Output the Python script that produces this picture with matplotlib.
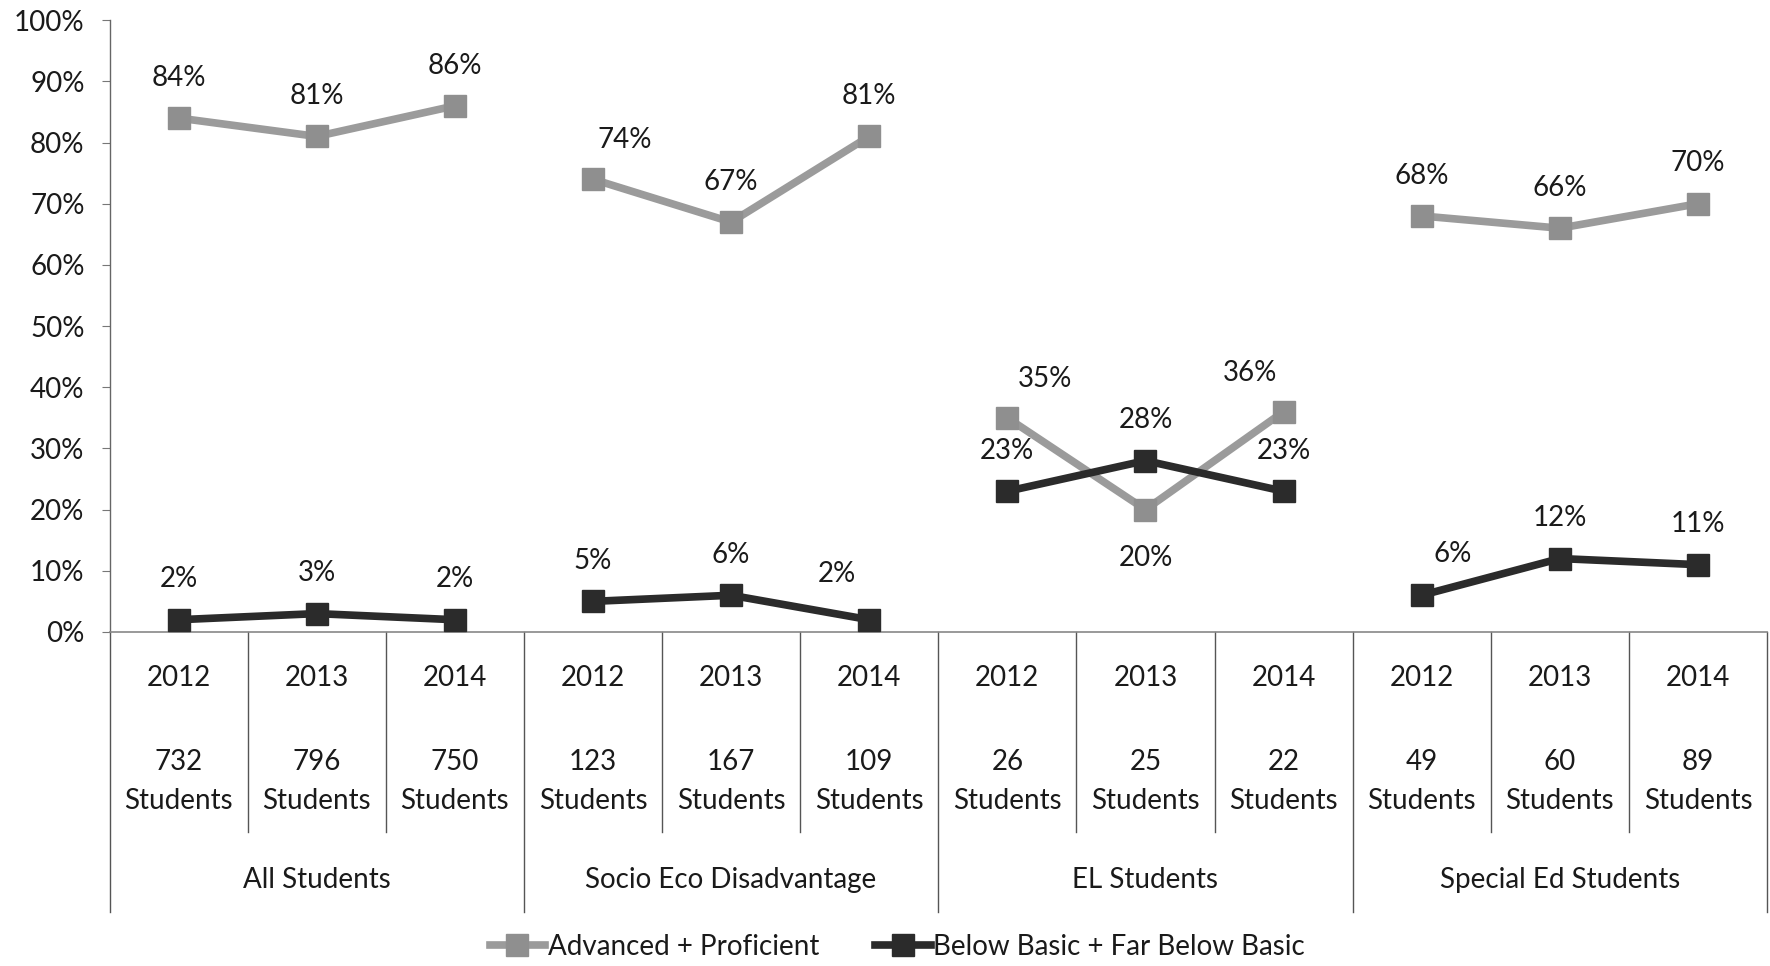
import matplotlib
matplotlib.use('Agg')
import matplotlib.pyplot as plt
from matplotlib.ticker import PercentFormatter, MultipleLocator
from matplotlib.transforms import blended_transform_factory

plt.rcParams['font.family'] = ['Lato', 'DejaVu Sans']

# Groups, years and number of students per year
groups = ["All Students", "Socio Eco Disadvantage", "EL Students", "Special Ed Students"]
years = ["2012", "2013", "2014"]
student_counts = [732, 796, 750, 123, 167, 109, 26, 25, 22, 49, 60, 89]

# Percentages per group/year (12 points, 3 per group)
adv_prof = [84, 81, 86, 74, 67, 81, 35, 20, 36, 68, 66, 70]
below_basic = [2, 3, 2, 5, 6, 2, 23, 28, 23, 6, 12, 11]

# label offsets (points) for the data labels, default is straight above
adv_offsets = {3: (23, 28), 6: (27, 28), 7: (0, -35), 8: (-24, 28)}
below_offsets = {5: (-23, 33), 9: (22, 30)}

light = '#9b9b9b'
dark = '#2b2b2b'
txt = '#1a1a1a'
fs = 20

fig = plt.figure(figsize=(17.7, 9.66), dpi=100)
ax = fig.add_axes([0.0619, 0.3458, 0.9364, 0.6333])

n_years = len(years)
for g in range(len(groups)):
    xs = list(range(g * n_years, (g + 1) * n_years))
    ax.plot(xs, [adv_prof[i] / 100 for i in xs], color=light, lw=5.5,
            marker='s', ms=16.5, mfc='#8f8f8f', mec='#8f8f8f',
            label="Advanced + Proficient" if g == 0 else None, zorder=3)
    ax.plot(xs, [below_basic[i] / 100 for i in xs], color=dark, lw=5.5,
            marker='s', ms=16.5, mfc=dark, mec=dark,
            label="Below Basic + Far Below Basic" if g == 0 else None, zorder=4)

# data labels
for i, v in enumerate(adv_prof):
    dx, dy = adv_offsets.get(i, (0, 29))
    ax.annotate(f"{v}%", (i, v / 100), xytext=(dx, dy), textcoords='offset points',
                ha='center', va='center', fontsize=fs, color=txt, zorder=5)
for i, v in enumerate(below_basic):
    dx, dy = below_offsets.get(i, (0, 29))
    ax.annotate(f"{v}%", (i, v / 100), xytext=(dx, dy), textcoords='offset points',
                ha='center', va='center', fontsize=fs, color=txt, zorder=5)

ax.set_xlim(-0.5, len(adv_prof) - 0.5)
ax.set_ylim(0, 1)
ax.yaxis.set_major_locator(MultipleLocator(0.1))
ax.yaxis.set_major_formatter(PercentFormatter(1.0, decimals=0))
ax.tick_params(axis='y', labelsize=fs, labelcolor=txt, length=6, color='#777777', pad=12)
ax.set_xticks([])
for s in ['top', 'right']:
    ax.spines[s].set_visible(False)
ax.spines['left'].set_color('#666666')
ax.spines['bottom'].set_color('#888888')
ax.spines['left'].set_linewidth(1)
ax.spines['bottom'].set_linewidth(1.2)

# multi-level category table under the axis
trans = blended_transform_factory(ax.transData, ax.transAxes)
line_kw = dict(transform=trans, clip_on=False, color='#555555', lw=1)
for k in range(len(adv_prof) + 1):
    xb = k - 0.5
    if k % n_years == 0:
        ax.plot([xb, xb], [0, -0.458], **line_kw)
    else:
        ax.plot([xb, xb], [0, -0.327], **line_kw)

for i, n in enumerate(student_counts):
    ax.text(i, -0.075, years[i % n_years], transform=trans, ha='center', va='center',
            fontsize=fs, color=txt)
    ax.text(i, -0.2125, str(n), transform=trans, ha='center', va='center',
            fontsize=fs, color=txt)
    ax.text(i, -0.277, "Students", transform=trans, ha='center', va='center',
            fontsize=fs, color=txt)

for g, name in enumerate(groups):
    ax.text(g * n_years + 1, -0.406, name, transform=trans, ha='center', va='center',
            fontsize=fs, color=txt)

fig.legend(loc='center', bbox_to_anchor=(0.507, 0.02), ncol=2, frameon=False,
           fontsize=fs, handlelength=2.0, handletextpad=0.1, columnspacing=2.0,
           labelcolor=txt)

plt.savefig("out.png", dpi=100)
